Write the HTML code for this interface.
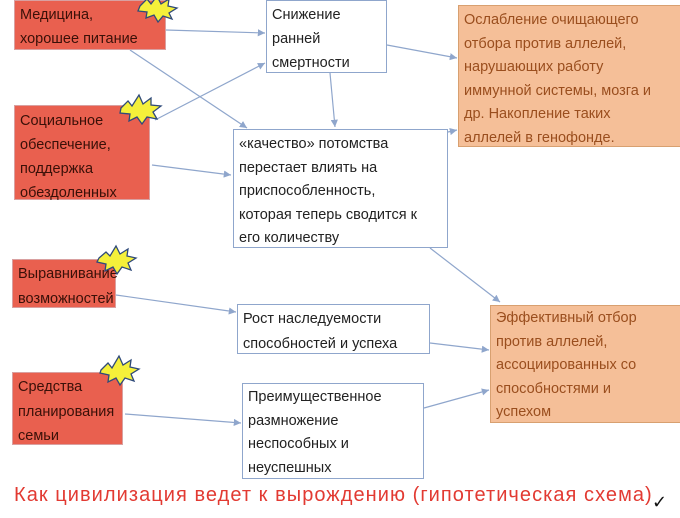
<!DOCTYPE html>
<html><head><meta charset="utf-8"><style>
body{margin:0;width:680px;height:518px;background:#fff;position:relative;overflow:hidden;font-family:"Liberation Sans","DejaVu Sans",sans-serif;}
.b{position:absolute;box-sizing:border-box;font-size:14.5px;line-height:23.5px;padding:2px 5px;color:#222;white-space:nowrap;}
.r{background:#e9604f;border:1px solid #d9a0a0;color:#3a1008;}
.w{background:#fff;border:1px solid #8fa6cc;}
.o{background:#f5bf98;border:1px solid #d8a070;color:#9a4e1e;}
svg{position:absolute;left:0;top:0;}
</style></head><body>
<svg width="680" height="518">
<defs><marker id="a" markerWidth="7" markerHeight="6" refX="6" refY="3" orient="auto"><path d="M0,0 L6,3 L0,6 z" fill="#8fa6cc"/></marker></defs>
<g stroke="#8fa6cc" stroke-width="1.2" fill="none" marker-end="url(#a)">
<line x1="166" y1="30" x2="265" y2="33"/>
<line x1="130" y1="50" x2="247" y2="128"/>
<line x1="155" y1="120" x2="265" y2="63"/>
<line x1="152" y1="165" x2="231" y2="175"/>
<line x1="330" y1="73" x2="335" y2="127"/>
<line x1="387" y1="45" x2="457" y2="58"/>
<line x1="448" y1="132" x2="457" y2="130"/>
<line x1="430" y1="248" x2="500" y2="302"/>
<line x1="116" y1="295" x2="236" y2="312"/>
<line x1="430" y1="343" x2="489" y2="350"/>
<line x1="125" y1="414" x2="241" y2="423"/>
<line x1="424" y1="408" x2="489" y2="390"/>
</g>
</svg>
<div class="b r" style="left:14px;top:0;width:152px;height:50px;line-height:24px;">Медицина,<br>хорошее питание</div>
<div class="b r" style="left:14px;top:105px;width:136px;height:95px;line-height:24px;padding-top:3px">Социальное<br>обеспечение,<br>поддержка<br>обездоленных</div>
<div class="b r" style="left:12px;top:259px;width:104px;height:49px;line-height:25px;">Выравнивание<br>возможностей</div>
<div class="b r" style="left:12px;top:372px;width:111px;height:73px;line-height:24.5px;">Средства<br>планирования<br>семьи</div>
<div class="b w" style="left:266px;top:0;width:121px;height:73px;line-height:24px;">Снижение<br>ранней<br>смертности</div>
<div class="b w" style="left:233px;top:129px;width:215px;height:119px;padding-top:3px">«качество» потомства<br>перестает влиять на<br>приспособленность,<br>которая теперь сводится к<br>его количеству</div>
<div class="b w" style="left:237px;top:304px;width:193px;height:50px;line-height:25px;">Рост наследуемости<br>способностей и успеха</div>
<div class="b w" style="left:242px;top:383px;width:182px;height:96px;">Преимущественное<br>размножение<br>неспособных и<br>неуспешных</div>
<div class="b o" style="left:458px;top:5px;width:230px;height:142px;padding-top:3px">Ослабление очищающего<br>отбора против аллелей,<br>нарушающих работу<br>иммунной системы, мозга и<br>др. Накопление таких<br>аллелей в генофонде.</div>
<div class="b o" style="left:490px;top:305px;width:200px;height:118px;padding-top:1px">Эффективный отбор<br>против аллелей,<br>ассоциированных со<br>способностями и<br>успехом</div>
<svg width="680" height="518" style="pointer-events:none">
<g fill="#f5f03a" stroke="#2f4a7a" stroke-width="1.3">
<polygon points="140,6 147,-1 151,4 157,-4 161,4 169,-1 168,6 177,8 169,13 172,19 163,16 158,22 154,15 146,18 147,12 138,11"/>
<polygon points="121,108 128,101 132,106 139,95 143,104 151,98 151,105 161,106 153,112 157,119 147,117 142,124 137,117 129,121 130,114 120,113"/>
<polygon points="99,258 106,252 110,256 116,246 120,254 128,249 127,256 136,258 128,263 131,270 122,267 117,274 113,267 105,271 106,264 97,262"/>
<polygon points="101,370 108,363 112,368 119,356 123,365 131,360 130,367 139,369 131,374 134,381 125,378 120,385 116,378 108,382 109,375 100,373"/>
</g>
</svg>
<div style="position:absolute;left:14px;top:484px;font-size:20px;letter-spacing:1.05px;color:#e23a32;white-space:nowrap;">Как цивилизация ведет к вырождению (гипотетическая схема)</div>
<div style="position:absolute;left:652px;top:492px;font-size:18px;color:#111;">✓</div>
</body></html>
